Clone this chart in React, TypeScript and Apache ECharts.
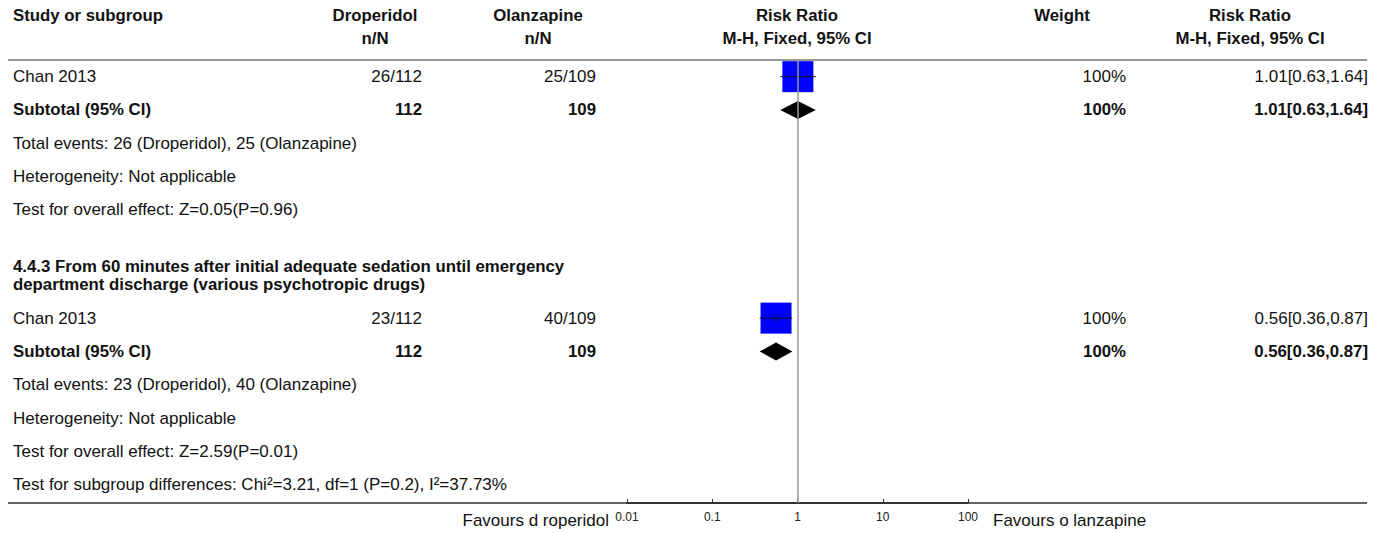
import React, { useEffect, useRef } from "react";
import * as echarts from "echarts";

// ---------- data ----------
const studyNames = ["Chan 2013", "Chan 2013"];
const droperidolEvents = [26, 23];
const droperidolTotals = [112, 112];
const olanzapineEvents = [25, 40];
const olanzapineTotals = [109, 109];
const riskRatios = [1.01, 0.56];
const ciLower = [0.63, 0.36];
const ciUpper = [1.64, 0.87];
const weights = [100, 100];
const subgroupHeadings: string[][] = [
  [],
  [
    "4.4.3 From 60 minutes after initial adequate sedation until emergency",
    "department discharge (various psychotropic drugs)",
  ],
];
const heterogeneityTexts = ["Heterogeneity: Not applicable", "Heterogeneity: Not applicable"];
const overallEffectTexts = ["Test for overall effect: Z=0.05(P=0.96)", "Test for overall effect: Z=2.59(P=0.01)"];
const subgroupDifferenceText = "Test for subgroup differences: Chi\u00b2=3.21, df=1 (P=0.2), I\u00b2=37.73%";
const tickValues = [0.01, 0.1, 1, 10, 100];
const favoursLeft = "Favours d roperidol";
const favoursRight = "Favours o lanzapine";
const groupNames = ["Droperidol", "Olanzapine"];

// ---------- layout ----------
const W = 1375;
const H = 533;
const FONT_FAMILY = "'Liberation Sans', Arial, sans-serif";
const FS = 17;
const FS_BOLD = 16.8;
const GRID_TOP = 60;
const GRID_BOTTOM = 30;
const Y_MIN = -0.5;
const Y_MAX = 12.8;
const GRID_LEFT = 627;
const GRID_RIGHT = W - 968;
const UNIT = (H - GRID_TOP - GRID_BOTTOM) / (Y_MAX - Y_MIN);
const py = (pos: number) => GRID_TOP + (pos - Y_MIN) * UNIT;

const COL = {
  study: 13,
  dro: 422,
  droHead: 375,
  ola: 596,
  olaHead: 538,
  forest: 797,
  weight: 1126,
  weightHead: 1062,
  rr: 1368,
  rrHead: 1250,
};

type Row = {
  pos: number;
  kind: "study" | "subtotal" | "text" | "heading";
  block: number;
  text?: string;
  lines?: string[];
};

function buildRows(): Row[] {
  const rows: Row[] = [];
  let pos = 0;
  for (let b = 0; b < studyNames.length; b++) {
    const head = subgroupHeadings[b];
    if (head.length) {
      // a blank separator row, then the heading which is 1.25 rows tall
      pos += 1;
      rows.push({ pos: pos - 0.5, kind: "heading", block: b, lines: head }); // top edge of heading
      pos += 0.25 + 1;
    }
    rows.push({ pos, kind: "study", block: b });
    pos += 1;
    rows.push({ pos, kind: "subtotal", block: b });
    pos += 1;
    rows.push({
      pos,
      kind: "text",
      block: b,
      text: `Total events: ${droperidolEvents[b]} (${groupNames[0]}), ${olanzapineEvents[b]} (${groupNames[1]})`,
    });
    pos += 1;
    rows.push({ pos, kind: "text", block: b, text: heterogeneityTexts[b] });
    pos += 1;
    rows.push({ pos, kind: "text", block: b, text: overallEffectTexts[b] });
    pos += 1;
  }
  rows.push({ pos, kind: "text", block: -1, text: subgroupDifferenceText });
  return rows;
}

const fmtRR = (i: number) => `${riskRatios[i].toFixed(2)}[${ciLower[i].toFixed(2)},${ciUpper[i].toFixed(2)}]`;

function txt(
  text: string,
  x: number,
  y: number,
  align: "left" | "center" | "right",
  bold = false,
  size?: number,
  color = "#111"
) {
  const s = size ?? (bold ? FS_BOLD : FS);
  return {
    type: "text",
    x,
    y,
    silent: true,
    style: {
      text,
      font: `${bold ? "bold " : ""}${s}px ${FONT_FAMILY}`,
      fill: color,
      align,
      verticalAlign: "middle",
      textAlign: align,
      textVerticalAlign: "middle",
    },
  };
}

export default function App() {
  const ref = useRef<HTMLDivElement>(null);

  useEffect(() => {
    if (!ref.current) return;
    const chart = echarts.init(ref.current, undefined, { renderer: "svg", width: W, height: H });
    const rows = buildRows();

    const graphics: any[] = [];
    const h1 = 15;
    const h2 = 38;
    graphics.push(txt("Study or subgroup", COL.study, h1, "left", true));
    graphics.push(txt(groupNames[0], COL.droHead, h1, "center", true));
    graphics.push(txt("n/N", COL.droHead, h2, "center", true));
    graphics.push(txt(groupNames[1], COL.olaHead, h1, "center", true));
    graphics.push(txt("n/N", COL.olaHead, h2, "center", true));
    graphics.push(txt("Risk Ratio", COL.forest, h1, "center", true));
    graphics.push(txt("M-H, Fixed, 95% CI", COL.forest, h2, "center", true));
    graphics.push(txt("Weight", COL.weightHead, h1, "center", true));
    graphics.push(txt("Risk Ratio", COL.rrHead, h1, "center", true));
    graphics.push(txt("M-H, Fixed, 95% CI", COL.rrHead, h2, "center", true));
    graphics.push({
      type: "line",
      silent: true,
      shape: { x1: 8, y1: GRID_TOP, x2: 1367, y2: GRID_TOP },
      style: { stroke: "#333", lineWidth: 1.2 },
    });
    graphics.push({
      type: "line",
      silent: true,
      shape: { x1: 8, y1: H - GRID_BOTTOM, x2: 1367, y2: H - GRID_BOTTOM },
      style: { stroke: "#333", lineWidth: 1.5 },
    });

    for (const r of rows) {
      const y = py(r.pos);
      if (r.kind === "study") {
        const b = r.block;
        graphics.push(txt(studyNames[b], COL.study, y, "left"));
        graphics.push(txt(`${droperidolEvents[b]}/${droperidolTotals[b]}`, COL.dro, y, "right"));
        graphics.push(txt(`${olanzapineEvents[b]}/${olanzapineTotals[b]}`, COL.ola, y, "right"));
        graphics.push(txt(`${weights[b]}%`, COL.weight, y, "right"));
        graphics.push(txt(fmtRR(b), COL.rr, y, "right"));
      } else if (r.kind === "subtotal") {
        const b = r.block;
        graphics.push(txt("Subtotal (95% CI)", COL.study, y, "left", true));
        graphics.push(txt(`${droperidolTotals[b]}`, COL.dro, y, "right", true));
        graphics.push(txt(`${olanzapineTotals[b]}`, COL.ola, y, "right", true));
        graphics.push(txt(`${weights[b]}%`, COL.weight, y, "right", true));
        graphics.push(txt(fmtRR(b), COL.rr, y, "right", true));
      } else if (r.kind === "heading") {
        const top = py(r.pos);
        (r.lines || []).forEach((l, i) => graphics.push(txt(l, COL.study, top + 7 + i * 18, "left", true)));
      } else if (r.text) {
        graphics.push(txt(r.text, COL.study, y, "left"));
      }
    }
    graphics.push(txt(favoursLeft, 609, 520, "right"));
    graphics.push(txt(favoursRight, 993, 520, "left"));

    const studyRows = rows.filter((r) => r.kind === "study");
    const subtotalRows = rows.filter((r) => r.kind === "subtotal");

    const squareData = studyRows.map((r) => [riskRatios[r.block], r.pos, weights[r.block]]);
    const ciData = studyRows.map((r) => [ciLower[r.block], ciUpper[r.block], riskRatios[r.block], r.pos]);
    const diamondData = subtotalRows.map((r) => [ciLower[r.block], ciUpper[r.block], riskRatios[r.block], r.pos]);

    chart.setOption({
      animation: false,
      grid: { left: GRID_LEFT, right: GRID_RIGHT, top: GRID_TOP, bottom: GRID_BOTTOM },
      xAxis: {
        type: "log",
        logBase: 10,
        min: tickValues[0],
        max: tickValues[tickValues.length - 1],
        axisLine: { show: true, onZero: false, lineStyle: { color: "#333", width: 2 } },
        axisTick: { show: true, inside: true, length: 4, lineStyle: { color: "#333" } },
        splitLine: { show: false },
        axisLabel: {
          fontSize: 12,
          color: "#222",
          fontFamily: FONT_FAMILY,
          margin: 8,
          formatter: (v: number) => String(Number(v.toPrecision(6))),
        },
      },
      yAxis: {
        type: "value",
        inverse: true,
        min: Y_MIN,
        max: Y_MAX,
        show: false,
      },
      series: [
        {
          type: "line",
          data: [],
          z: 1,
          markLine: {
            silent: true,
            symbol: "none",
            label: { show: false },
            lineStyle: { color: "#999", width: 1.5, type: "solid" },
            data: [{ xAxis: 1 }],
          },
        },
        {
          type: "scatter",
          z: 2,
          symbol: "rect",
          symbolSize: (v: number[]) => 31 * Math.sqrt(v[2] / 100),
          itemStyle: { color: "#0000ff", opacity: 1 },
          data: squareData,
          silent: true,
        },
        {
          type: "custom",
          z: 3,
          silent: true,
          data: ciData,
          encode: { x: [0, 1, 2], y: 3 },
          renderItem: (_p: any, api: any) => {
            const a = api.coord([api.value(0), api.value(3)]);
            const b = api.coord([api.value(1), api.value(3)]);
            const c = api.coord([api.value(2), api.value(3)]);
            return {
              type: "group",
              children: [
                { type: "line", shape: { x1: a[0], y1: a[1], x2: b[0], y2: b[1] }, style: { stroke: "#111", lineWidth: 1 } },
                { type: "line", shape: { x1: c[0], y1: c[1] - 4, x2: c[0], y2: c[1] + 4 }, style: { stroke: "#111", lineWidth: 1 } },
              ],
            };
          },
        },
        {
          type: "custom",
          z: 3,
          silent: true,
          data: diamondData,
          encode: { x: [0, 1, 2], y: 3 },
          renderItem: (_p: any, api: any) => {
            const a = api.coord([api.value(0), api.value(3)]);
            const b = api.coord([api.value(1), api.value(3)]);
            const c = api.coord([api.value(2), api.value(3)]);
            return {
              type: "polygon",
              shape: { points: [a, [c[0], c[1] - 9], b, [c[0], c[1] + 9]] },
              style: { fill: "#000" },
            };
          },
        },
      ],
      graphic: graphics,
    });
    return () => chart.dispose();
  }, []);

  return (
    <div
      ref={ref}
      style={{ position: "fixed", left: 0, top: 0, width: W, height: H, background: "#fff" }}
    />
  );
}
